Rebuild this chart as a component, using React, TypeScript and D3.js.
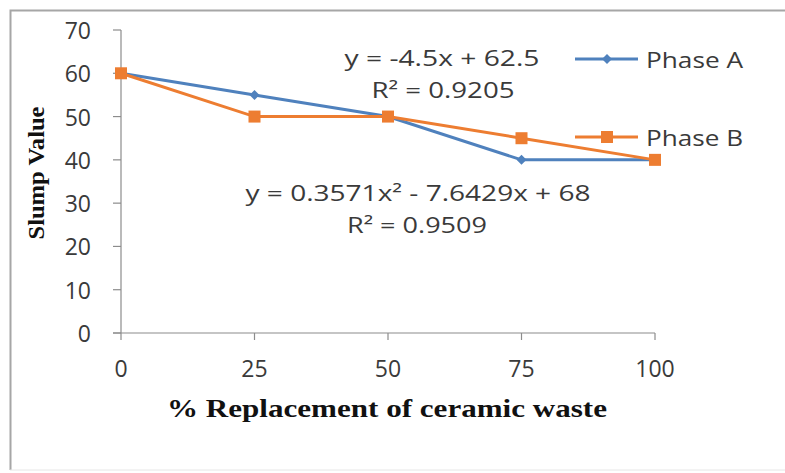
import React from "react";
import * as d3 from "d3";

const categories = [0, 25, 50, 75, 100];
const phaseA = [60, 55, 50, 40, 40];
const phaseB = [60, 50, 50, 45, 40];
const yTicks = [0, 10, 20, 30, 40, 50, 60, 70];
const seriesNames = ["Phase A", "Phase B"];
const eqA = "y = -4.5x + 62.5";
const r2A = "R² = 0.9205";
const eqB = "y = 0.3571x² - 7.6429x + 68";
const r2B = "R² = 0.9509";

const W = 785;
const H = 473;
const blue = "#4F81BD";
const orange = "#ED7D31";
const axisCol = "#8c8c8c";
const txt = "#3a3a3a";
const sans = "'Open Sans', 'Liberation Sans', sans-serif";
const serif = "'Liberation Serif', 'Times New Roman', serif";

export default function App() {
  const x = d3.scalePoint<number>().domain(categories).range([121, 655]);
  const y = d3.scaleLinear().domain([0, 70]).range([333, 30]);
  const line = d3
    .line<number>()
    .x((_, i) => x(categories[i]) as number)
    .y((d) => y(d));

  const diamond = (cx: number, cy: number, r: number) =>
    `M${cx},${cy - r}L${cx + r},${cy}L${cx},${cy + r}L${cx - r},${cy}Z`;

  const eqText = (s: string, cx: number, cy: number, len: number) => (
    <text
      x={cx}
      y={cy}
      textAnchor="middle"
      dominantBaseline="central"
      fontFamily={sans}
      fontSize={21}
      fill={txt}
      textLength={len}
      lengthAdjust="spacingAndGlyphs"
    >
      {s}
    </text>
  );

  return (
    <svg
      width={W}
      height={H}
      style={{ position: "absolute", left: 0, top: 0, background: "#fff" }}
    >
      <rect x={0} y={0} width={W} height={H} fill="#fff" />
      <path d={`M10.5,${H - 3}V10.5H${W}`} fill="none" stroke="#a6a6a6" strokeWidth={2} />
      <line x1={10} x2={W} y1={H - 3} y2={H - 3} stroke="#e6e6e6" strokeWidth={1} />

      {/* axes */}
      <line x1={121} x2={121} y1={y(70)} y2={y(0)} stroke={axisCol} strokeWidth={1.2} />
      <line x1={113} x2={655} y1={y(0)} y2={y(0)} stroke={axisCol} strokeWidth={1.2} />
      {yTicks.map((t) => (
        <g key={"y" + t}>
          <line x1={113} x2={121} y1={y(t)} y2={y(t)} stroke={axisCol} strokeWidth={1.2} />
          <text
            x={91}
            y={y(t)}
            textAnchor="end"
            dominantBaseline="central"
            fontFamily={sans}
            fontSize={23}
            fill={txt}
          >
            {t}
          </text>
        </g>
      ))}
      {categories.map((c) => (
        <g key={"x" + c}>
          <line
            x1={x(c) as number}
            x2={x(c) as number}
            y1={y(0)}
            y2={y(0) + 7}
            stroke={axisCol}
            strokeWidth={1.2}
          />
          <text
            x={x(c) as number}
            y={368}
            textAnchor="middle"
            dominantBaseline="central"
            fontFamily={sans}
            fontSize={23}
            fill={txt}
          >
            {c}
          </text>
        </g>
      ))}

      {/* axis titles */}
      <text
        x={387}
        y={408}
        textAnchor="middle"
        dominantBaseline="central"
        fontFamily={serif}
        fontWeight="bold"
        fontSize={26}
        fill="#111"
        textLength={440}
        lengthAdjust="spacingAndGlyphs"
      >
        % Replacement of ceramic waste
      </text>
      <text
        transform="translate(36,173) rotate(-90)"
        textAnchor="middle"
        dominantBaseline="central"
        fontFamily={serif}
        fontWeight="bold"
        fontSize={24}
        fill="#111"
        textLength={133}
        lengthAdjust="spacingAndGlyphs"
      >
        Slump Value
      </text>

      {/* series A */}
      <path d={line(phaseA) || ""} fill="none" stroke={blue} strokeWidth={3} />
      {phaseA.map((v, i) => (
        <path key={"a" + i} d={diamond(x(categories[i]) as number, y(v), 5)} fill={blue} />
      ))}
      {/* series B */}
      <path d={line(phaseB) || ""} fill="none" stroke={orange} strokeWidth={3} />
      {phaseB.map((v, i) => (
        <rect
          key={"b" + i}
          x={(x(categories[i]) as number) - 6}
          y={y(v) - 6}
          width={12}
          height={12}
          fill={orange}
        />
      ))}

      {/* trendline equations */}
      {eqText(eqA, 442, 58, 195)}
      {eqText(r2A, 443, 90, 143)}
      {eqText(eqB, 418, 193, 345)}
      {eqText(r2B, 417, 225, 140)}

      {/* legend */}
      {seriesNames.map((name, i) => {
        const ly = i === 0 ? 59 : 137;
        const col = i === 0 ? blue : orange;
        return (
          <g key={name}>
            <line x1={575} x2={638} y1={ly} y2={ly} stroke={col} strokeWidth={3} />
            {i === 0 ? (
              <path d={diamond(607, ly, 5)} fill={col} />
            ) : (
              <rect x={601} y={ly - 6} width={12} height={12} fill={col} />
            )}
            <text
              x={646}
              y={ly}
              dominantBaseline="central"
              fontFamily={sans}
              fontSize={22}
              fill={txt}
              textLength={97}
              lengthAdjust="spacingAndGlyphs"
            >
              {name}
            </text>
          </g>
        );
      })}
    </svg>
  );
}
